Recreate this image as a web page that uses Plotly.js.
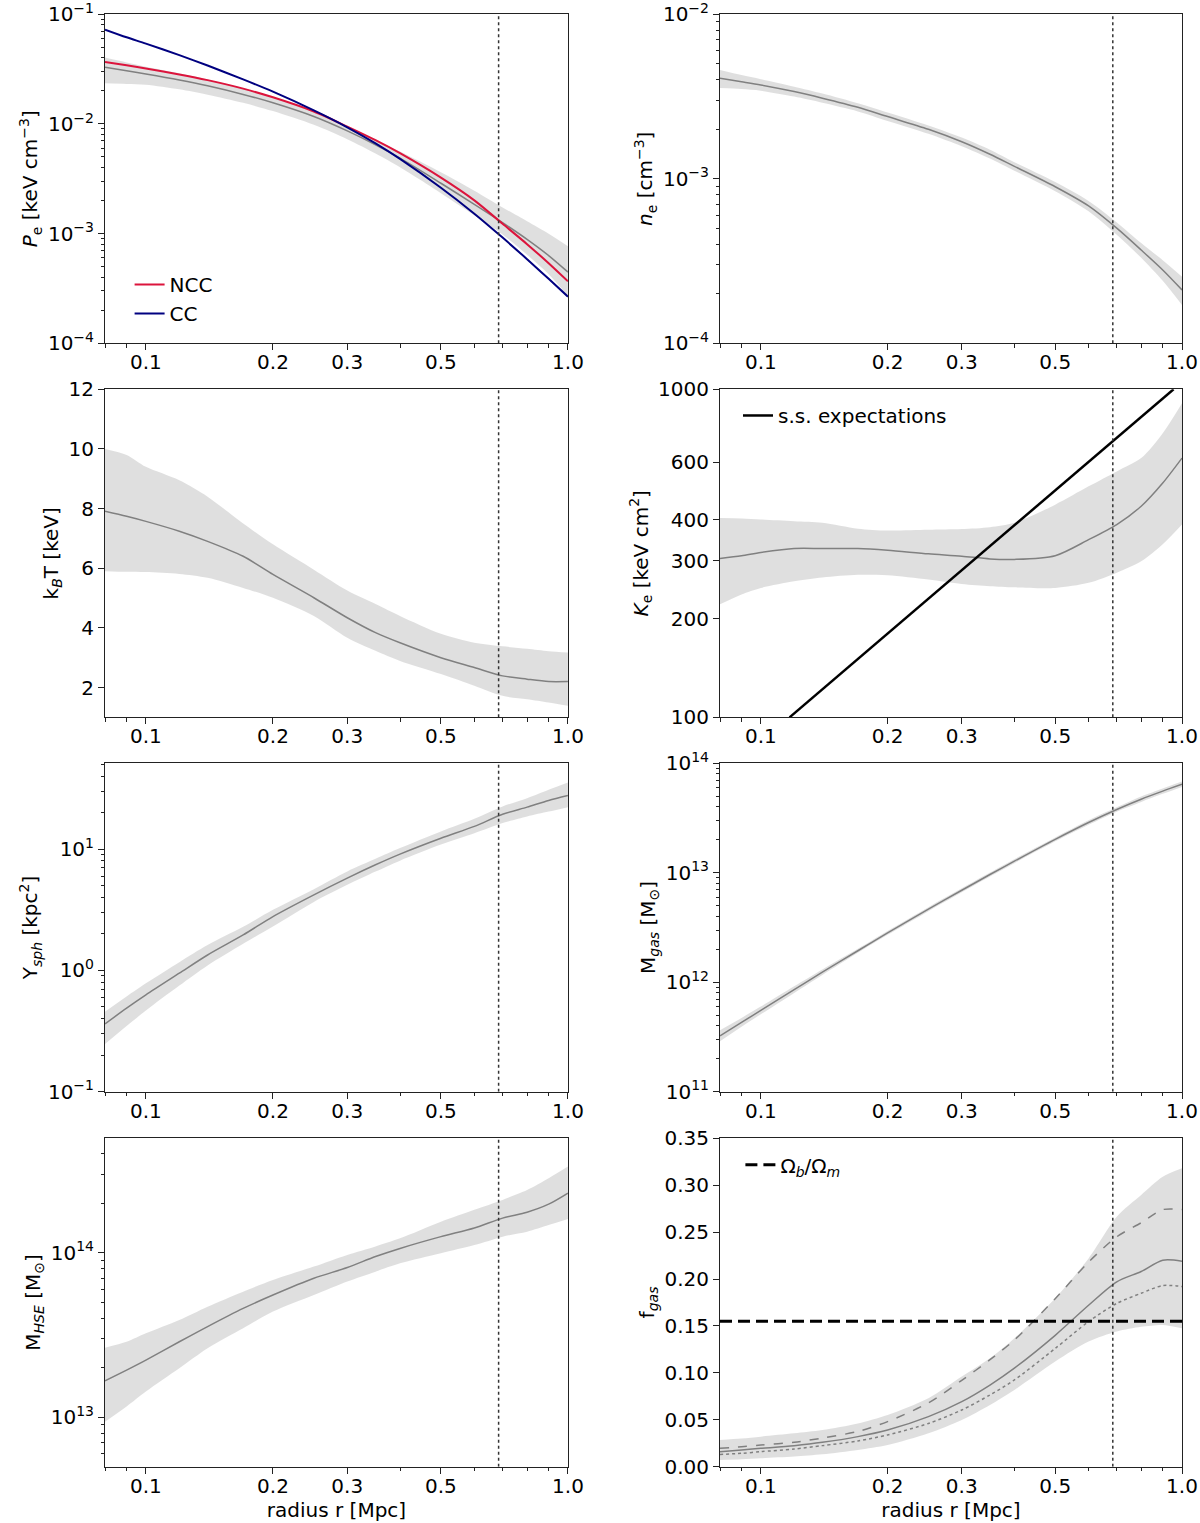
<!DOCTYPE html>
<html>
<head>
<meta charset="utf-8">
<script src="https://cdn.plot.ly/plotly-3.0.1.min.js"></script>
<style>body{margin:0;background:#fff}#plot{width:1200px;height:1523px}</style>
</head>
<body>
<div id="plot"></div>
<script>
'use strict'

// radius grid [Mpc], shared by all panels
const radius = [0.08, 0.09, 0.1, 0.12, 0.14, 0.17, 0.2, 0.25, 0.3, 0.35, 0.4, 0.5, 0.6, 0.7, 0.8, 0.9, 1.0];
const r500 = 0.685; // vertical dotted line

// electron pressure [keV cm^-3]
const peMed = [0.0329, 0.0306, 0.0286, 0.0252, 0.0223, 0.0186, 0.0156, 0.0117, 0.00865, 0.00646, 0.00488, 0.00288, 0.00185, 0.00126, 0.000887, 0.000631, 0.000446];
const peLo  = [0.0235, 0.0232, 0.0228, 0.0207, 0.0185, 0.0156, 0.0131, 0.00982, 0.00726, 0.00537, 0.00402, 0.00234, 0.00147, 0.000982, 0.000643, 0.000427, 0.00027];
const peHi  = [0.0403, 0.0364, 0.0333, 0.029, 0.0255, 0.0211, 0.0175, 0.013, 0.00948, 0.00716, 0.0056, 0.00363, 0.00246, 0.00173, 0.0013, 0.001, 0.000769];
const peNCC = [0.0368, 0.0343, 0.0321, 0.0283, 0.0251, 0.0210, 0.0175, 0.0130, 0.00946, 0.00711, 0.00541, 0.00324, 0.00201, 0.00123, 0.000802, 0.000537, 0.000367];
const peCC  = [0.0725, 0.0617, 0.0540, 0.0424, 0.0341, 0.0255, 0.0197, 0.0133, 0.00933, 0.00665, 0.0048, 0.00262, 0.00152, 0.00092, 0.000585, 0.000387, 0.000266];

// electron density [cm^-3]
const neMed = [0.00408, 0.00389, 0.00372, 0.00339, 0.00309, 0.00272, 0.00239, 0.00200, 0.00168, 0.00141, 0.00119, 0.000895, 0.000684, 0.000501, 0.000369, 0.000279, 0.000211];
const neLo  = [0.00356, 0.00351, 0.00343, 0.00316, 0.0029, 0.00257, 0.00225, 0.00188, 0.00158, 0.00133, 0.00112, 0.000841, 0.000635, 0.000457, 0.000331, 0.00024, 0.000171];
const neHi  = [0.00458, 0.00427, 0.00403, 0.00363, 0.0033, 0.00288, 0.00253, 0.00211, 0.00178, 0.0015, 0.00126, 0.000955, 0.000733, 0.000543, 0.000407, 0.00032, 0.000254];

// temperature [keV]
const ktMed = [7.91, 7.74, 7.57, 7.24, 6.9, 6.40, 5.79, 5.01, 4.34, 3.84, 3.50, 3.0, 2.67, 2.39, 2.28, 2.2, 2.2];
const ktLo  = [5.9, 5.88, 5.87, 5.81, 5.68, 5.34, 5.01, 4.40, 3.67, 3.23, 2.89, 2.45, 2.06, 1.72, 1.61, 1.5, 1.39];
const ktHi  = [10.0, 9.8, 9.4, 8.95, 8.4, 7.5, 6.8, 5.95, 5.25, 4.8, 4.4, 3.8, 3.5, 3.38, 3.3, 3.22, 3.17];

// entropy [keV cm^2]
const keMed = [305, 311, 318, 327, 327, 327, 323, 315, 310, 304, 303, 311, 348, 387, 440, 518, 617];
const keLo  = [221, 237, 248, 260, 267, 272, 271, 263, 255, 251, 249, 248, 257, 276, 299, 337, 387];
const keHi  = [405, 404, 401, 396, 392, 376, 371, 373, 375, 380, 392, 445, 506, 562, 617, 735, 907];
const ssR = [0.117, 0.955];
const ssK = [100, 1000];

// Compton Y [kpc^2]
const ysMed = [0.362, 0.488, 0.628, 0.948, 1.34, 1.96, 2.78, 4.2, 5.77, 7.43, 9.1, 12.3, 15.4, 19.4, 22.2, 25.2, 27.7];
const ysLo  = [0.247, 0.348, 0.467, 0.75, 1.10, 1.66, 2.30, 3.67, 5.08, 6.53, 8.04, 10.9, 13.5, 16.4, 18.6, 20.4, 22.2];
const ysHi  = [0.457, 0.61, 0.783, 1.17, 1.62, 2.29, 3.16, 4.68, 6.55, 8.32, 10.2, 14.0, 17.8, 22.5, 26.3, 30.9, 35.5];

// gas mass [Msun]
const mgMed = [3.24e11, 4.30e11, 5.53e11, 8.57e11, 1.236e12, 1.94e12, 2.82e12, 4.65e12, 6.92e12, 9.64e12, 1.276e13, 2.02e13, 2.88e13, 3.79e13, 4.70e13, 5.57e13, 6.43e13];
const mgLo  = [2.89e11, 3.92e11, 5.10e11, 7.99e11, 1.167e12, 1.86e12, 2.71e12, 4.46e12, 6.64e12, 9.25e12, 1.225e13, 1.94e13, 2.75e13, 3.62e13, 4.44e13, 5.26e13, 6.07e13];
const mgHi  = [3.64e11, 4.71e11, 5.99e11, 9.19e11, 1.309e12, 2.02e12, 2.94e12, 4.85e12, 7.21e12, 1.004e13, 1.33e13, 2.10e13, 3.02e13, 3.97e13, 4.98e13, 5.90e13, 6.81e13];

// hydrostatic mass [Msun]
const mhMed = [1.66e13, 1.93e13, 2.22e13, 2.87e13, 3.55e13, 4.58e13, 5.52e13, 6.98e13, 8.11e13, 9.46e13, 1.06e14, 1.25e14, 1.41e14, 1.62e14, 1.76e14, 1.97e14, 2.30e14];
const mhLo  = [9.37e12, 1.16e13, 1.43e13, 1.98e13, 2.62e13, 3.47e13, 4.38e13, 5.52e13, 6.67e13, 7.66e13, 8.61e13, 9.91e13, 1.11e14, 1.25e14, 1.34e14, 1.47e14, 1.60e14];
const mhHi  = [2.64e13, 2.87e13, 3.23e13, 3.89e13, 4.69e13, 5.79e13, 6.82e13, 8.22e13, 9.68e13, 1.09e14, 1.22e14, 1.54e14, 1.82e14, 2.09e14, 2.40e14, 2.83e14, 3.33e14];

// gas fraction
const fgMed  = [0.016, 0.0178, 0.0195, 0.0224, 0.0259, 0.032, 0.039, 0.0533, 0.0693, 0.087, 0.105, 0.140, 0.172, 0.197, 0.208, 0.220, 0.219];
const fgDash = [0.0195, 0.0213, 0.023, 0.026, 0.0305, 0.0375, 0.048, 0.068, 0.092, 0.114, 0.135, 0.179, 0.218, 0.245, 0.26, 0.274, 0.274];
const fgDot  = [0.013, 0.0142, 0.016, 0.0188, 0.0224, 0.0274, 0.0338, 0.046, 0.0604, 0.0764, 0.0924, 0.126, 0.1546, 0.174, 0.1848, 0.193, 0.192];
const fgLo   = [0.0071, 0.0078, 0.0089, 0.0107, 0.0131, 0.0178, 0.023, 0.0355, 0.0497, 0.0657, 0.0817, 0.112, 0.1333, 0.144, 0.149, 0.151, 0.1475];
const fgHi   = [0.0284, 0.030, 0.032, 0.0355, 0.039, 0.046, 0.055, 0.0729, 0.096, 0.1155, 0.1368, 0.1795, 0.222, 0.2665, 0.2896, 0.309, 0.318];
const baryonFrac = 0.155;

// axis ticks
const xTickVals = [0.1, 0.2, 0.3, 0.5, 1.0];
const xTickText = ['0.1', '0.2', '0.3', '0.5', '1.0'];
const xMinorVals = [0.08, 0.09, 0.4, 0.6, 0.7, 0.8, 0.9];
const keTicks = [100, 200, 300, 400, 600, 1000];

const bandColor = 'rgba(128,128,128,0.25)';
const medColor = 'gray';
const FONT = 'DejaVu Sans, sans-serif';
const FS = 20;

function ax(n) { return n === 1 ? '' : String(n); }

function bandTraces(lo, hi, n) {
    return [
        {x: radius, y: lo, xaxis: 'x' + ax(n), yaxis: 'y' + ax(n), mode: 'lines',
         line: {width: 0, shape: 'spline', smoothing: 0.8}, showlegend: false, hoverinfo: 'skip'},
        {x: radius, y: hi, xaxis: 'x' + ax(n), yaxis: 'y' + ax(n), mode: 'lines',
         line: {width: 0, shape: 'spline', smoothing: 0.8}, fill: 'tonexty', fillcolor: bandColor,
         showlegend: false, hoverinfo: 'skip'}
    ];
}

function lineTrace(y, n, color, width, dash, extra) {
    return Object.assign({x: radius, y: y, xaxis: 'x' + ax(n), yaxis: 'y' + ax(n), mode: 'lines',
        line: {color: color, width: width, dash: dash || 'solid', shape: 'spline', smoothing: 0.8},
        showlegend: false}, extra || {});
}

function pow10(e) {
    return '10<sup>' + (e < 0 ? '\u2212' + (-e) : e) + '</sup>';
}

function logMinor(a, b) {
    let v = [];
    for (let k = Math.floor(a); k < Math.ceil(b); k++) {
        for (let m = 2; m <= 9; m++) {
            let t = m * Math.pow(10, k);
            if (Math.log10(t) > a && Math.log10(t) < b) v.push(t);
        }
    }
    return v;
}

// y axis settings per panel, ranges in data units
const yCfg = [
    {type: 'log', range: [1e-4, 1e-1], exps: [-4, -3, -2, -1], title: '<i>P</i><sub>e</sub> [keV cm<sup>\u22123</sup>]'},
    {type: 'log', range: [1e-4, 1e-2], exps: [-4, -3, -2], title: '<i>n</i><sub>e</sub> [cm<sup>\u22123</sup>]'},
    {type: 'linear', range: [1, 12], tickvals: [2, 4, 6, 8, 10, 12], title: 'k<sub><i>B</i></sub>T [keV]'},
    {type: 'log', range: [100, 1000], tickvals: keTicks, title: '<i>K</i><sub>e</sub> [keV cm<sup>2</sup>]'},
    {type: 'log', range: [0.1, 51], exps: [-1, 0, 1], title: 'Y<sub><i>sph</i></sub> [kpc<sup>2</sup>]'},
    {type: 'log', range: [1e11, 1e14], exps: [11, 12, 13, 14], title: 'M<sub><i>gas</i></sub> [M<sub>\u2299</sub>]'},
    {type: 'log', range: [5e12, 4.95e14], exps: [13, 14], title: 'M<sub><i>HSE</i></sub> [M<sub>\u2299</sub>]'},
    {type: 'linear', range: [0, 0.35], tickvals: [0, 0.05, 0.1, 0.15, 0.2, 0.25, 0.3, 0.35], title: 'f<sub><i>gas</i></sub>'}
];

const xDomains = [[0.0875, 0.4733], [0.6, 0.985]];
const yDomains = [[0.7746, 0.9906], [0.5290, 0.7444], [0.2832, 0.4988], [0.0370, 0.2526]];

let data = [];

// panel 1: pressure
data.push(...bandTraces(peLo, peHi, 1));
data.push(lineTrace(peMed, 1, medColor, 1.5));
data.push(lineTrace(peNCC, 1, '#dc143c', 2, 'solid', {name: 'NCC', showlegend: true, legend: 'legend'}));
data.push(lineTrace(peCC, 1, '#000080', 2, 'solid', {name: 'CC', showlegend: true, legend: 'legend'}));

// panel 2: density
data.push(...bandTraces(neLo, neHi, 2));
data.push(lineTrace(neMed, 2, medColor, 1.5));

// panel 3: temperature
data.push(...bandTraces(ktLo, ktHi, 3));
data.push(lineTrace(ktMed, 3, medColor, 1.5));

// panel 4: entropy
data.push(...bandTraces(keLo, keHi, 4));
data.push(lineTrace(keMed, 4, medColor, 1.5));
data.push({x: ssR, y: ssK, xaxis: 'x4', yaxis: 'y4', mode: 'lines', line: {color: 'black', width: 2.5},
           name: 's.s. expectations', showlegend: true, legend: 'legend2'});

// panel 5: Y_sph
data.push(...bandTraces(ysLo, ysHi, 5));
data.push(lineTrace(ysMed, 5, medColor, 1.5));

// panel 6: M_gas
data.push(...bandTraces(mgLo, mgHi, 6));
data.push(lineTrace(mgMed, 6, medColor, 1.5));

// panel 7: M_HSE
data.push(...bandTraces(mhLo, mhHi, 7));
data.push(lineTrace(mhMed, 7, medColor, 1.5));

// panel 8: f_gas
data.push(...bandTraces(fgLo, fgHi, 8));
data.push(lineTrace(fgMed, 8, medColor, 1.5));
data.push(lineTrace(fgDash, 8, medColor, 1.5, 'dash'));
data.push(lineTrace(fgDot, 8, medColor, 1.5, 'dot'));
data.push({x: [radius[0], radius[radius.length - 1]], y: [baryonFrac, baryonFrac], xaxis: 'x8', yaxis: 'y8',
           mode: 'lines', line: {color: 'black', width: 3, dash: '12px,6px'},
           name: '\u03a9<sub><i>b</i></sub>/\u03a9<sub><i>m</i></sub>', showlegend: true, legend: 'legend3'});

// dotted vertical line in every panel
for (let n = 1; n <= 8; n++) {
    let c = yCfg[n - 1];
    data.push({x: [r500, r500], y: c.range, xaxis: 'x' + ax(n), yaxis: 'y' + ax(n), mode: 'lines',
               line: {color: '#333', width: 1.5, dash: 'dot'}, showlegend: false, hoverinfo: 'skip'});
}

const legendCommon = {xanchor: 'left', yanchor: 'top', bgcolor: 'rgba(0,0,0,0)', font: {size: FS}, traceorder: 'normal'};

let layout = {
    width: 1200,
    height: 1523,
    margin: {l: 0, r: 0, t: 0, b: 0},
    paper_bgcolor: 'white',
    plot_bgcolor: 'white',
    font: {family: FONT, size: FS, color: 'black'},
    legend: Object.assign({x: 0.108, y: 0.826}, legendCommon),
    legend2: Object.assign({x: 0.615, y: 0.740}, legendCommon),
    legend3: Object.assign({x: 0.617, y: 0.248}, legendCommon)
};

const axisCommon = {
    showline: true, linecolor: '#222', linewidth: 1, mirror: true,
    ticks: 'outside', ticklen: 6, tickwidth: 1, tickcolor: '#222',
    showgrid: false, zeroline: false, ticklabeloverflow: 'allow',
    tickfont: {family: FONT, size: FS, color: 'black'}
};

for (let n = 1; n <= 8; n++) {
    let col = (n - 1) % 2, row = Math.floor((n - 1) / 2);
    let c = yCfg[n - 1];
    layout['xaxis' + ax(n)] = Object.assign({}, axisCommon, {
        type: 'log', domain: xDomains[col], anchor: 'y' + ax(n),
        range: [Math.log10(0.08), 0], ticklabelstandoff: -5,
        tickmode: 'array', tickvals: xTickVals, ticktext: xTickText,
        minor: {tickmode: 'array', tickvals: xMinorVals, ticks: 'outside', ticklen: 3.5, tickcolor: '#222'},
        title: row === 3 ? {text: 'radius r [Mpc]', font: {size: FS}, standoff: 4} : {text: ''}
    });
    let y = Object.assign({}, axisCommon, {
        type: c.type, domain: yDomains[row], anchor: 'x' + ax(n),
        title: {text: c.title, font: {size: FS}, standoff: 4}
    });
    y.tickmode = 'array';
    if (c.type === 'log') {
        y.range = [Math.log10(c.range[0]), Math.log10(c.range[1])];
        if (c.exps) {
            y.tickvals = c.exps.map(e => Math.pow(10, e));
            y.ticktext = c.exps.map(pow10);
            y.minor = {tickmode: 'array', tickvals: logMinor(y.range[0], y.range[1]),
                       ticks: 'outside', ticklen: 3.5, tickcolor: '#222'};
        } else {
            y.tickvals = c.tickvals;
            y.ticktext = c.tickvals.map(String);
        }
    } else {
        y.range = c.range;
        y.tickvals = c.tickvals;
        y.ticktext = n === 8 ? c.tickvals.map(v => v.toFixed(2)) : c.tickvals.map(String);
    }
    layout['yaxis' + ax(n)] = y;
}

Plotly.newPlot('plot', data, layout, {staticPlot: true});
</script>
</body>
</html>
